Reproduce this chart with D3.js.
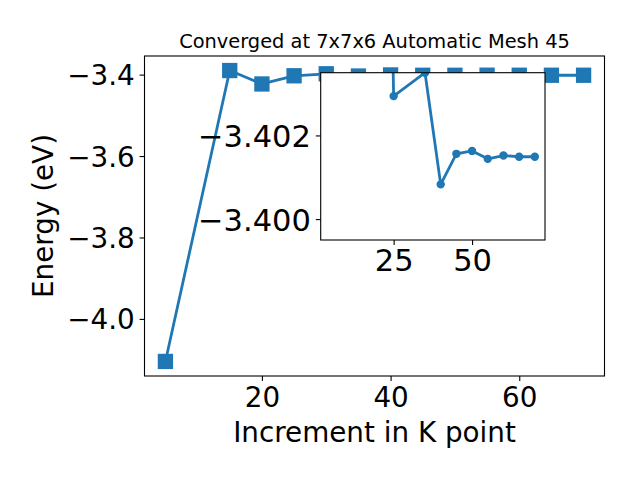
<!DOCTYPE html>
<html>
<head>
<meta charset="utf-8">
<script src="https://cdn.jsdelivr.net/npm/d3@7"></script>
<style>
  body { margin: 0; background: #fff; }
  text { font-family: "DejaVu Sans", sans-serif; fill: #000; }
</style>
</head>
<body>
<svg width="640" height="480"></svg>
<script>
// main series
var kPoints = [5, 15, 20, 25, 30, 35, 40, 45, 50, 55, 60, 65, 70]
var energies = [-4.1045, -3.390, -3.423, -3.4029, -3.398, -3.4035, -3.4008, -3.4016, -3.4016, -3.4014, -3.4015, -3.4015, -3.4015]

// inset series
var insetK = [20, 25, 35, 40, 45, 50, 55, 60, 65, 70]
var insetE = [-3.423, -3.40294, -3.4035, -3.40083, -3.40156, -3.40163, -3.40144, -3.40152, -3.40149, -3.40149]

var xTicks = [20, 40, 60]
var yTicks = [-3.4, -3.6, -3.8, -4.0]
var insetXTicks = [25, 50]
var insetYTicks = [-3.402, -3.400]
var insetYLim = [-3.4035, -3.3995]

var titleText = "Converged at 7x7x6 Automatic Mesh 45"
var blue = "#1f77b4"

function main(){
    var svg = d3.select("svg")
    var minus = function(s){ return s.replace("-", "\u2212") }

    var xr = d3.extent(kPoints), yr = d3.extent(energies)
    var xm = (xr[1]-xr[0])*0.05, ym = (yr[1]-yr[0])*0.05
    var xScale = d3.scaleLinear().domain([xr[0]-xm, xr[1]+xm]).range([144.5, 604.5])
    var yScale = d3.scaleLinear().domain([yr[0]-ym, yr[1]+ym]).range([376, 56])

    svg.append("defs").append("clipPath").attr("id", "clipMain")
        .append("rect").attr("x", 144.5).attr("y", 56).attr("width", 460).attr("height", 320)

    // axes
    var gx = svg.append("g").attr("transform", "translate(0,376)")
        .call(d3.axisBottom(xScale).tickValues(xTicks).tickSize(4.9).tickPadding(6.5).tickSizeOuter(0))
    var gy = svg.append("g").attr("transform", "translate(144.5,0)")
        .call(d3.axisLeft(yScale).tickValues(yTicks).tickSize(4.9).tickPadding(4.9).tickSizeOuter(0)
            .tickFormat(function(d){ return minus(d3.format(".1f")(d)) }))
    ;[gx, gy].forEach(function(g){
        g.select(".domain").remove()
        g.selectAll("line").attr("stroke", "#000").attr("stroke-width", 1.1)
        g.selectAll("text").attr("font-size", 27.8).attr("font-family", "DejaVu Sans")
    })
    gy.selectAll("text").attr("dy", "0.36em")

    var line = d3.line().x(function(d){ return xScale(d[0]) }).y(function(d){ return yScale(d[1]) })
    var pts = kPoints.map(function(k, i){ return [k, energies[i]] })
    var plot = svg.append("g").attr("clip-path", "url(#clipMain)")
    plot.append("path").datum(pts).attr("d", line)
        .attr("fill", "none").attr("stroke", blue).attr("stroke-width", 2.8).attr("stroke-linejoin", "round")
    plot.selectAll(".sq").data(pts).enter().append("rect").attr("class", "sq")
        .attr("x", function(d){ return xScale(d[0]) - 6.95 })
        .attr("y", function(d){ return yScale(d[1]) - 6.95 })
        .attr("width", 13.9).attr("height", 13.9)
        .attr("fill", blue).attr("stroke", blue).attr("stroke-width", 1.4)

    svg.append("rect").attr("x", 144.5).attr("y", 56).attr("width", 460).attr("height", 320)
        .attr("fill", "none").attr("stroke", "#000").attr("stroke-width", 1.1)

    svg.append("text").attr("x", 374.5).attr("y", 47.7).attr("text-anchor", "middle")
        .attr("font-size", 19.4).text(titleText)
    svg.append("text").attr("x", 374.5).attr("y", 441.7).attr("text-anchor", "middle")
        .attr("font-size", 27.8).text("Increment in K point")
    svg.append("text").attr("transform", "translate(53.3,216) rotate(-90)").attr("text-anchor", "middle")
        .attr("font-size", 27.8).text("Energy (eV)")

    // inset
    var ix0 = 320.7, ix1 = 545, iy0 = 72.7, iy1 = 240
    var ixScale = d3.scaleLinear().domain(xScale.domain()).range([ix0, ix1])
    var iyScale = d3.scaleLinear().domain(insetYLim).range([iy0, iy1])

    svg.select("defs").append("clipPath").attr("id", "clipInset")
        .append("rect").attr("x", ix0).attr("y", iy0).attr("width", ix1-ix0).attr("height", iy1-iy0)

    svg.append("rect").attr("x", ix0).attr("y", iy0).attr("width", ix1-ix0).attr("height", iy1-iy0)
        .attr("fill", "#fff")

    var igx = svg.append("g").attr("transform", "translate(0," + iy1 + ")")
        .call(d3.axisBottom(ixScale).tickValues(insetXTicks).tickSize(4.9).tickPadding(4.5).tickSizeOuter(0))
    var igy = svg.append("g").attr("transform", "translate(" + ix0 + ",0)")
        .call(d3.axisLeft(iyScale).tickValues(insetYTicks).tickSize(4.9).tickPadding(4.9).tickSizeOuter(0)
            .tickFormat(function(d){ return minus(d3.format(".3f")(d)) }))
    ;[igx, igy].forEach(function(g){
        g.select(".domain").remove()
        g.selectAll("line").attr("stroke", "#000").attr("stroke-width", 1.1)
        g.selectAll("text").attr("font-size", 30.5).attr("font-family", "DejaVu Sans")
    })
    igy.selectAll("text").attr("dy", "0.36em")

    var iline = d3.line().x(function(d){ return ixScale(d[0]) }).y(function(d){ return iyScale(d[1]) })
    var ipts = insetK.map(function(k, i){ return [k, insetE[i]] })
    var iplot = svg.append("g").attr("clip-path", "url(#clipInset)")
    iplot.append("path").datum(ipts).attr("d", iline)
        .attr("fill", "none").attr("stroke", blue).attr("stroke-width", 2.8).attr("stroke-linejoin", "round")
    iplot.selectAll(".dot").data(ipts).enter().append("circle").attr("class", "dot")
        .attr("cx", function(d){ return ixScale(d[0]) })
        .attr("cy", function(d){ return iyScale(d[1]) })
        .attr("r", 3.5)
        .attr("fill", blue).attr("stroke", blue).attr("stroke-width", 1.4)

    svg.append("rect").attr("x", ix0).attr("y", iy0).attr("width", ix1-ix0).attr("height", iy1-iy0)
        .attr("fill", "none").attr("stroke", "#000").attr("stroke-width", 1.1)
}
main()
</script>
</body>
</html>
